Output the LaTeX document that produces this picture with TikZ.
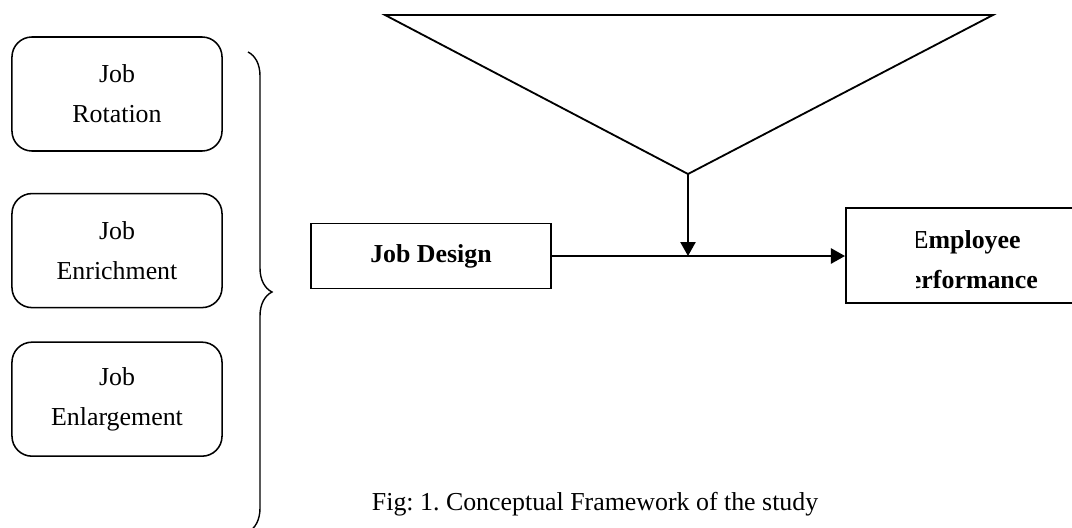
\documentclass[tikz,border=0pt]{standalone}
\usepackage{fontspec}
\setmainfont{Liberation Serif}
\usepackage{tikz}
\usetikzlibrary{calc,arrows,positioning}
\usetikzlibrary{decorations.pathreplacing}
\tikzset{
factor_box/.style={rectangle, rounded corners=0.5cm, draw, line width=1.1pt, anchor=center, minimum width=5.25cm, minimum height=2.85cm, align=center, font=\fontsize{18.4}{28.4}\selectfont},
plain_box/.style={rectangle, draw, line width=1.4pt, minimum width=6cm, align=center, font=\fontsize{18.4}{28.4}\selectfont\bfseries},
box_text/.style={rectangle, align=center, font=\fontsize{18.4}{28.4}\selectfont\bfseries},
caption/.style={rectangle, anchor=base west, font=\fontsize{18.4}{28.4}\selectfont\frenchspacing},
group_brace/.style={line width=1pt, decorate, decoration={brace, amplitude=0.6cm}}
}
\usetikzlibrary{arrows.meta}

\begin{document}
\begin{tikzpicture}[x=0.025cm, y=-0.025cm]
    \useasboundingbox (0,0) rectangle (1072,527);
    \clip (0,0) rectangle (1072,527);
    \node[factor_box] (rotation) at (117,94) {Job\\Rotation};
    \node[factor_box] (enrichment) [below=1.025cm of rotation] {Job\\Enrichment};
    \node[factor_box] (enlargement) [below=0.825cm of enrichment] {Job\\Enlargement};
    \draw[group_brace] (248,52) -- (248,532);
    \coordinate (tri_left) at (385,15);
    \coordinate (tri_right) at (993,15);
    \coordinate (apex) at (688,174);
    \draw[line width=1.3pt, line join=miter] (tri_left) -- (tri_right) -- (apex) -- cycle;
    \node[plain_box, minimum height=1.625cm] (design) at (431,256) {Job Design};
    \node[plain_box, minimum height=2.375cm] (performance) at (966,255.5) {};
    \begin{scope}
        \clip (916,200) rectangle (1072,310);
        \node[box_text] (performance_text) at (966,260) {Employee\\Performance};
    \end{scope}
    \draw[-{Triangle[length=0.35cm, width=0.38cm]}, line width=1.3pt] (design.east) -- (design.east -| performance.west);
    \draw[-{Triangle[length=0.35cm, width=0.38cm]}, line width=1.3pt] (apex) -- (apex |- design.east);
    \node[caption] (fig_caption) at (367,510) {Fig: 1. Conceptual Framework of the study};
\end{tikzpicture}
\end{document}
